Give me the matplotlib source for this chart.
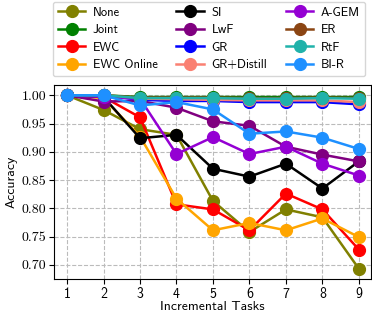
import matplotlib
matplotlib.use("Agg")
import matplotlib.pyplot as plt

# Incremental task index
tasks = [1, 2, 3, 4, 5, 6, 7, 8, 9]

# Accuracy after each task, per method
acc_none = [1.000, 0.974, 0.940, 0.930, 0.813, 0.758, 0.798, 0.784, 0.693]
acc_joint = [1.000, 1.000, 0.997, 0.997, 0.997, 0.997, 0.997, 0.997, 0.997]
acc_ewc = [1.000, 0.997, 0.961, 0.807, 0.798, 0.761, 0.826, 0.798, 0.727]
acc_ewc_online = [1.000, 0.995, 0.927, 0.817, 0.761, 0.774, 0.761, 0.782, 0.749]
acc_si = [1.000, 0.997, 0.924, 0.930, 0.870, 0.856, 0.879, 0.835, 0.883]
acc_lwf = [1.000, 0.989, 0.990, 0.978, 0.954, 0.946, 0.909, 0.895, 0.883]
acc_gr = [1.000, 1.000, 0.992, 0.990, 0.990, 0.988, 0.988, 0.988, 0.984]
acc_gr_distill = [1.000, 1.000, 0.994, 0.993, 0.992, 0.991, 0.991, 0.991, 0.988]
acc_agem = [1.000, 0.997, 0.994, 0.896, 0.926, 0.896, 0.909, 0.879, 0.858]
acc_er = [1.000, 1.000, 0.996, 0.996, 0.996, 0.995, 0.995, 0.996, 0.995]
acc_rtf = [1.000, 1.000, 0.995, 0.995, 0.995, 0.994, 0.994, 0.995, 0.994]
acc_bir = [1.000, 1.000, 0.982, 0.988, 0.975, 0.932, 0.936, 0.925, 0.905]

methods = ["None", "Joint", "EWC", "EWC Online",
           "SI", "LwF", "GR", "GR+Distill",
           "A-GEM", "ER", "RtF", "BI-R"]
results = [acc_none, acc_joint, acc_ewc, acc_ewc_online,
           acc_si, acc_lwf, acc_gr, acc_gr_distill,
           acc_agem, acc_er, acc_rtf, acc_bir]
colors = ["olive", "green", "red", "orange",
          "black", "purple", "blue", "salmon",
          "darkviolet", "saddlebrown", "lightseagreen", "dodgerblue"]

plt.rcParams["font.family"] = "cmss10"
plt.rcParams["font.size"] = 9

fig = plt.figure(figsize=(3.72, 3.13), dpi=100)
ax = fig.add_axes([0.145, 0.109, 0.852, 0.619])

for name, vals, c in zip(methods, results, colors):
    ax.plot(tasks, vals, marker="o", color=c, label=name,
            linewidth=1.8, markersize=8.5)

ax.set_xlim(0.64, 9.33)
ax.set_ylim(0.675, 1.018)
ax.set_xticks(tasks)
ax.set_yticks([0.70, 0.75, 0.80, 0.85, 0.90, 0.95, 1.00])
ax.set_yticklabels([f"{v:.2f}" for v in ax.get_yticks()], family="cmr10")
ax.tick_params(labelsize=10, pad=2)
ax.grid(True, linestyle="--", color="#bbbbbb", linewidth=0.8)
ax.set_axisbelow(True)
ax.set_xlabel("Incremental Tasks", fontsize=9.8, labelpad=0)
ax.set_ylabel("Accuracy", fontsize=9.8, labelpad=3)

fig.legend(loc="upper left", bbox_to_anchor=(0.142, 0.995), ncol=3,
           handlelength=2.2, handletextpad=0.6, columnspacing=1.5,
           labelspacing=0.45, borderaxespad=0)

fig.savefig("out.png", dpi=100)
